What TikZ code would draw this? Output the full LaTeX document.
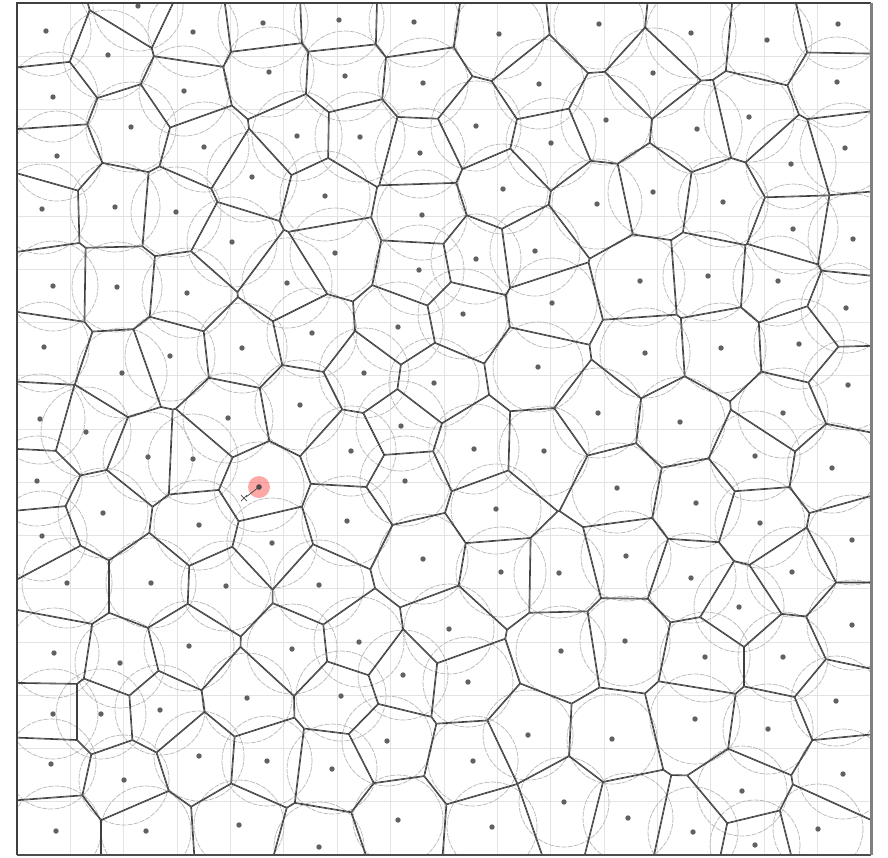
\documentclass[tikz,border=0pt]{standalone}
\newcommand\vorpts{138/6,46/31,193/32,263/23,108/55,269/72,184/91,53/97,131/127,297/136,204/147,57/156,252/177,42/209,115/207,176/212,232/242,53/286,117/287,287/283,
339/20,414/22,499/34,345/76,423/83,539/84,360/137,476/126,420/153,551/143,325/196,503/189,422/215,335/253,476/259,535/251,419/270,
599/24,691/33,767/40,838/24,653/73,837/82,606/120,697/129,749/117,845/148,791/164,653/192,597/204,723/202,793/229,853/239,640/281,708/276,778/281,
187/293,44/347,122/373,170/356,242/348,40/419,86/432,228/418,148/457,193/459,37/481,259/487,103/513,199/525,42/536,272/543,
552/303,463/314,398/327,312/333,538/367,364/373,434/383,300/405,401/426,351/451,474/449,544/451,405/481,496/509,347/521,423/559,501/572,559/573,
846/308,799/344,645/353,721/348,848/385,598/413,680/422,783/413,755/456,832/468,617/488,696/503,760/523,852/540,626/556,792/572,
67/583,151/583,226/586,292/649,54/653,120/663,189/646,247/698,53/714,101/714,160/710,51/764,199/756,267/761,124/780,56/831,146/831,239/825,
319/585,449/629,359/642,561/651,403/675,468/682,341/696,528/735,387/741,473/761,332/769,564/802,398/820,492/827,319/847,
691/578,739/607,852/625,625/641,705/657,783/657,836/701,695/719,768/729,612/739,843/774,742/791,628/818,693/832,818/829,755/845}
\ExplSyntaxOn
\intarray_new:Nn \g_vor_x_intarray {400}
\intarray_new:Nn \g_vor_y_intarray {400}
\int_new:N \g_vor_count_int
\int_new:N \l_vor_xi_int
\int_new:N \l_vor_yi_int
\int_new:N \l_vor_dx_int
\int_new:N \l_vor_dy_int
\fp_new:N \l_vor_len_fp
\fp_new:N \l_vor_ax_fp
\fp_new:N \l_vor_ay_fp
\fp_new:N \l_vor_mx_fp
\fp_new:N \l_vor_my_fp
\tl_new:N \l_vor_pa_tl
\tl_new:N \l_vor_pb_tl
\tl_new:N \l_vor_pc_tl
\tl_new:N \l_vor_pd_tl
\tl_new:N \l_vor_lines_tl
\cs_new_protected:Npn \vor_add_pair:w #1/#2 \q_stop
  {
    \int_gincr:N \g_vor_count_int
    \intarray_gset:Nnn \g_vor_x_intarray { \g_vor_count_int } { #1 }
    \intarray_gset:Nnn \g_vor_y_intarray { \g_vor_count_int } { #2 }
  }
\cs_new_protected:Npn \vorload
  { \exp_args:No \clist_map_inline:nn { \vorpts } { \vor_add_pair:w ##1 \q_stop } }
\cs_new_protected:Npn \vor_clip:
  {
    \fp_set:Nn \l_vor_len_fp { sqrt( (\int_use:N \l_vor_dx_int)^2 + (\int_use:N \l_vor_dy_int)^2 ) }
    \fp_set:Nn \l_vor_ax_fp { 2000 * (\int_use:N \l_vor_dx_int) / \l_vor_len_fp }
    \fp_set:Nn \l_vor_ay_fp { 2000 * (\int_use:N \l_vor_dy_int) / \l_vor_len_fp }
    \fp_set:Nn \l_vor_mx_fp { (\int_use:N \l_vor_xi_int) + (\int_use:N \l_vor_dx_int) / 2 }
    \fp_set:Nn \l_vor_my_fp { (\int_use:N \l_vor_yi_int) + (\int_use:N \l_vor_dy_int) / 2 }
    \tl_set:Nx \l_vor_pa_tl
      { \fp_eval:n { round(\l_vor_mx_fp - \l_vor_ay_fp, 2) } , \fp_eval:n { round(\l_vor_my_fp + \l_vor_ax_fp, 2) } }
    \tl_set:Nx \l_vor_pb_tl
      { \fp_eval:n { round(\l_vor_mx_fp - \l_vor_ay_fp - \l_vor_ax_fp, 2) } , \fp_eval:n { round(\l_vor_my_fp + \l_vor_ax_fp - \l_vor_ay_fp, 2) } }
    \tl_set:Nx \l_vor_pc_tl
      { \fp_eval:n { round(\l_vor_mx_fp + \l_vor_ay_fp - \l_vor_ax_fp, 2) } , \fp_eval:n { round(\l_vor_my_fp - \l_vor_ax_fp - \l_vor_ay_fp, 2) } }
    \tl_set:Nx \l_vor_pd_tl
      { \fp_eval:n { round(\l_vor_mx_fp + \l_vor_ay_fp, 2) } , \fp_eval:n { round(\l_vor_my_fp - \l_vor_ax_fp, 2) } }
    \use:x { \exp_not:N \clip (\l_vor_pa_tl) -- (\l_vor_pb_tl) -- (\l_vor_pc_tl) -- (\l_vor_pd_tl) -- cycle ; }
    \tl_put_right:Nx \l_vor_lines_tl { (\l_vor_pa_tl) -- (\l_vor_pd_tl) }
  }
\cs_new_protected:Npn \vor_cell:n #1
  {
    \int_set:Nn \l_vor_xi_int { \intarray_item:Nn \g_vor_x_intarray {#1} }
    \int_set:Nn \l_vor_yi_int { \intarray_item:Nn \g_vor_y_intarray {#1} }
    \tl_clear:N \l_vor_lines_tl
    \begin{scope}
    \int_step_inline:nn { \g_vor_count_int }
      {
        \int_compare:nNnF {##1} = {#1}
          {
            \int_set:Nn \l_vor_dx_int { \intarray_item:Nn \g_vor_x_intarray {##1} - \l_vor_xi_int }
            \int_set:Nn \l_vor_dy_int { \intarray_item:Nn \g_vor_y_intarray {##1} - \l_vor_yi_int }
            \bool_lazy_and:nnT
              { \int_compare_p:nNn { \int_abs:n { \l_vor_dx_int } } < { 170 } }
              { \int_compare_p:nNn { \int_abs:n { \l_vor_dy_int } } < { 170 } }
              { \vor_clip: }
          }
      }
    \use:x { \exp_not:N \draw [vedge] \l_vor_lines_tl ; }
    \end{scope}
  }
\cs_new_protected:Npn \vordraw
  { \int_step_inline:nn { \g_vor_count_int } { \vor_cell:n {##1} } }
\ExplSyntaxOff
\vorload
\tikzset{
  vedge/.style={draw=black!75, line width=1.6pt, line join=round},
  vgrid/.style={draw=black!11, line width=0.9pt},
  vcirc/.style={draw=black!27, line width=0.75pt, dash pattern=on 5pt off 1.2pt},
  vdot/.style={fill=black!62}
}
\begin{document}
\begin{tikzpicture}[x=1pt,y=-1pt]
\useasboundingbox (0,0) rectangle (888,857);
\fill[white] (0,0) rectangle (888,857);
\begin{scope}
\clip (17,3) rectangle (871,855);
\foreach \k in {1,...,15} {
  \draw[vgrid] ({17+53.375*\k},3) -- ({17+53.375*\k},855);
  \draw[vgrid] (17,{3+53.25*\k}) -- (871,{3+53.25*\k});
}
\foreach \x/\y in \vorpts { \draw[vcirc] (\x,\y) circle (45); }
\vordraw
\foreach \x/\y in \vorpts { \fill[vdot] (\x,\y) circle (2.7); }
\end{scope}
\draw[black!75, line width=1.8pt] (17,855) -- (17,3) -- (871,3);
\draw[black!70, line width=1.8pt] (17,855) -- (871,855);
\draw[black!50, line width=3pt] (871,3) -- (871,855);
\fill[red!75!white, opacity=0.45] (259,487) circle (11);
\fill[black!70] (259,487) circle (2.7);
\draw[black!70, line width=0.8pt] (259,487) -- (246,497);
\draw[black!70, line width=0.7pt] (241,495) -- (247,501) (241,501) -- (247,495);
\end{tikzpicture}
\end{document}
